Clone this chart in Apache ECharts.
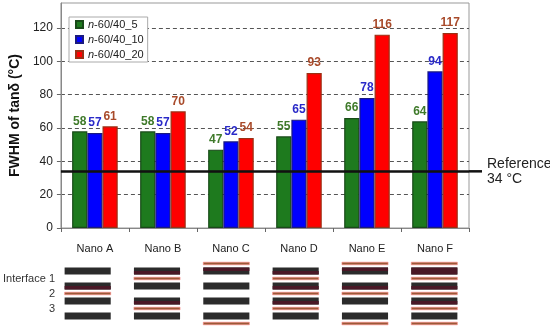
<!DOCTYPE html>
<html>
<head>
<meta charset="utf-8">
<script src="https://cdn.jsdelivr.net/npm/echarts@6/dist/echarts.min.js"></script>
<style>html,body{margin:0;padding:0;background:#fff;}#c{width:550px;height:331px;}</style>
</head>
<body>
<div id="c"></div>
<script>
const categories = ['Nano A', 'Nano B', 'Nano C', 'Nano D', 'Nano E', 'Nano F'];
const seriesNames = ['n-60/40_5', 'n-60/40_10', 'n-60/40_20'];
const values5 = [58, 58, 47, 55, 66, 64];
const values10 = [57, 57, 52, 65, 78, 94];
const values20 = [61, 70, 54, 93, 116, 117];
const referenceValue = 34;
const referenceLabel = 'Reference\n34 °C';
const yTicks = [0, 20, 40, 60, 80, 100, 120];
// interfaces per sample: [top, interface 1, interface 2, interface 3, bottom]
const interfaceFlags = [
  [0, 0, 1, 0, 0],
  [0, 1, 0, 1, 0],
  [1, 0, 0, 0, 1],
  [0, 1, 1, 1, 0],
  [1, 0, 1, 0, 1],
  [1, 1, 1, 1, 1]
];
const interfaceLabels = ['Interface 1', '2', '3'];

const FONT = '"Liberation Sans", Arial, sans-serif';
const chart = echarts.init(document.getElementById('c'));

const fills = ['#1e7a1e', '#0000ff', '#ff0000'];
const borders = ['#184a18', '#1a1a80', '#9a3014'];
const labelColors = ['#3f7a2a', '#2a2ac8', '#a84a2a'];
const datasets = [values5, values10, values20];

const barSeries = datasets.map((d, i) => ({
  name: seriesNames[i],
  type: 'bar',
  xAxisIndex: 0, yAxisIndex: 0,
  data: d,
  barGap: '0%',
  barCategoryGap: '33%',
  itemStyle: { color: fills[i], borderColor: borders[i], borderWidth: 1.2 },
  label: { show: true, position: 'top', distance: 4, color: labelColors[i], fontWeight: 'bold', fontSize: 12, fontFamily: FONT },
  markLine: i === 0 ? {
    silent: true, symbol: 'none',
    data: [{ yAxis: referenceValue }],
    lineStyle: { color: '#111', width: 2.5, type: 'solid' },
    label: { show: true, position: 'end', distance: 18, formatter: referenceLabel, color: '#222', fontSize: 14, lineHeight: 15, fontFamily: FONT }
  } : undefined
}));

const schematic = {
  type: 'custom',
  xAxisIndex: 1, yAxisIndex: 1,
  silent: true,
  data: interfaceFlags.map((f, i) => [i].concat(f)),
  renderItem: function (params, api) {
    const i = api.value(0);
    const cx = api.coord([i, 0])[0];
    const w = api.size([1, 0])[0] * 0.665;
    const x0 = cx - w / 2;
    const children = [];
    const flags = [api.value(1), api.value(2), api.value(3), api.value(4), api.value(5)];
    for (let k = 1; k <= 4; k++) {
      const y = api.coord([i, k])[1];
      children.push({ type: 'rect', shape: { x: x0, y: y - 3.5, width: w, height: 7 }, style: { fill: '#2b2b2b' } });
      if (flags[k] && k < 4) {
        children.push({ type: 'rect', shape: { x: x0, y: y, width: w, height: 3.5 }, style: { fill: '#4a1826' } });
      }
      if (k === 1 && flags[0]) {
        children.push({ type: 'rect', shape: { x: x0, y: y - 3.5, width: w, height: 3.5 }, style: { fill: '#4a1826' } });
      }
    }
    for (let j = 0; j < 5; j++) {
      if (!flags[j]) continue;
      const yy = api.coord([i, j + 0.5])[1];
      children.push({ type: 'rect', shape: { x: x0, y: yy - 1.3, width: w, height: 2.6 }, style: { fill: '#9c5a38', stroke: '#ff8a8a', lineWidth: 0.6 } });
    }
    return { type: 'group', children: children };
  }
};

chart.setOption({
  animation: false,
  textStyle: { fontFamily: FONT },
  grid: [
    { left: 53, right: 81, top: 3, bottom: 103, show: true, borderColor: '#999', borderWidth: 1 },
    { left: 53, right: 81, top: 256, height: 77 }
  ],
  legend: {
    data: seriesNames,
    orient: 'vertical',
    left: 69, top: 17,
    padding: [2, 4, 2, 6],
    itemGap: 4,
    itemWidth: 7, itemHeight: 7,
    icon: 'rect',
    backgroundColor: '#fff',
    borderColor: '#aaa', borderWidth: 1,
    formatter: function (name) { return '{i|n}{t|' + name.slice(1) + '}'; },
    textStyle: {
      fontFamily: FONT, fontSize: 11, color: '#222',
      rich: { i: { fontStyle: 'italic', fontSize: 11, color: '#222', fontFamily: FONT }, t: { fontSize: 11, color: '#222', fontFamily: FONT } }
    }
  },
  xAxis: [
    {
      type: 'category', gridIndex: 0, data: categories,
      axisLine: { lineStyle: { color: '#888' } },
      axisTick: { show: true, length: 4, lineStyle: { color: '#666' } },
      axisLabel: { color: '#222', fontSize: 11, margin: 15, fontFamily: FONT }
    },
    { type: 'category', gridIndex: 1, data: categories, show: false }
  ],
  yAxis: [
    {
      type: 'value', gridIndex: 0, min: 0, max: 135, interval: 20,
      name: 'FWHM of tanδ (°C)', nameLocation: 'middle', nameGap: 28,
      nameTextStyle: { fontSize: 14, fontWeight: 'bold', color: '#111', fontFamily: FONT },
      axisLine: { show: true, lineStyle: { color: '#888' } },
      axisTick: { show: true, length: 4, lineStyle: { color: '#666' } },
      axisLabel: { color: '#222', fontSize: 12, margin: 8, showMaxLabel: false, fontFamily: FONT,
        formatter: function (v) { return yTicks.indexOf(v) >= 0 ? String(v) : ''; } },
      splitLine: { show: true, showMaxLine: false, lineStyle: { color: '#555', type: [4, 3], width: 1 } }
    },
    { type: 'value', gridIndex: 1, min: 0, max: 5, inverse: true, show: false }
  ],
  series: barSeries.concat([schematic])
});

const yRef = chart.convertToPixel({ yAxisIndex: 0 }, referenceValue);
const xEnd = chart.convertToPixel({ xAxisIndex: 0 }, categories.length - 1) + chart.getModel().getComponent('xAxis', 0).axis.getBandWidth() / 2;
const graphics = [
  { type: 'line', shape: { x1: xEnd, y1: yRef, x2: xEnd + 13, y2: yRef }, style: { stroke: '#111', lineWidth: 2.5 }, z: 10 }
];
interfaceLabels.forEach((t, k) => {
  const y = chart.convertToPixel({ yAxisIndex: 1 }, k + 1.5);
  graphics.push({ type: 'text', x: 55, y: y, style: { text: t, align: 'right', verticalAlign: 'middle', fontSize: 11, fill: '#333', fontFamily: FONT } });
});
chart.setOption({ graphic: graphics });
</script>
</body>
</html>
